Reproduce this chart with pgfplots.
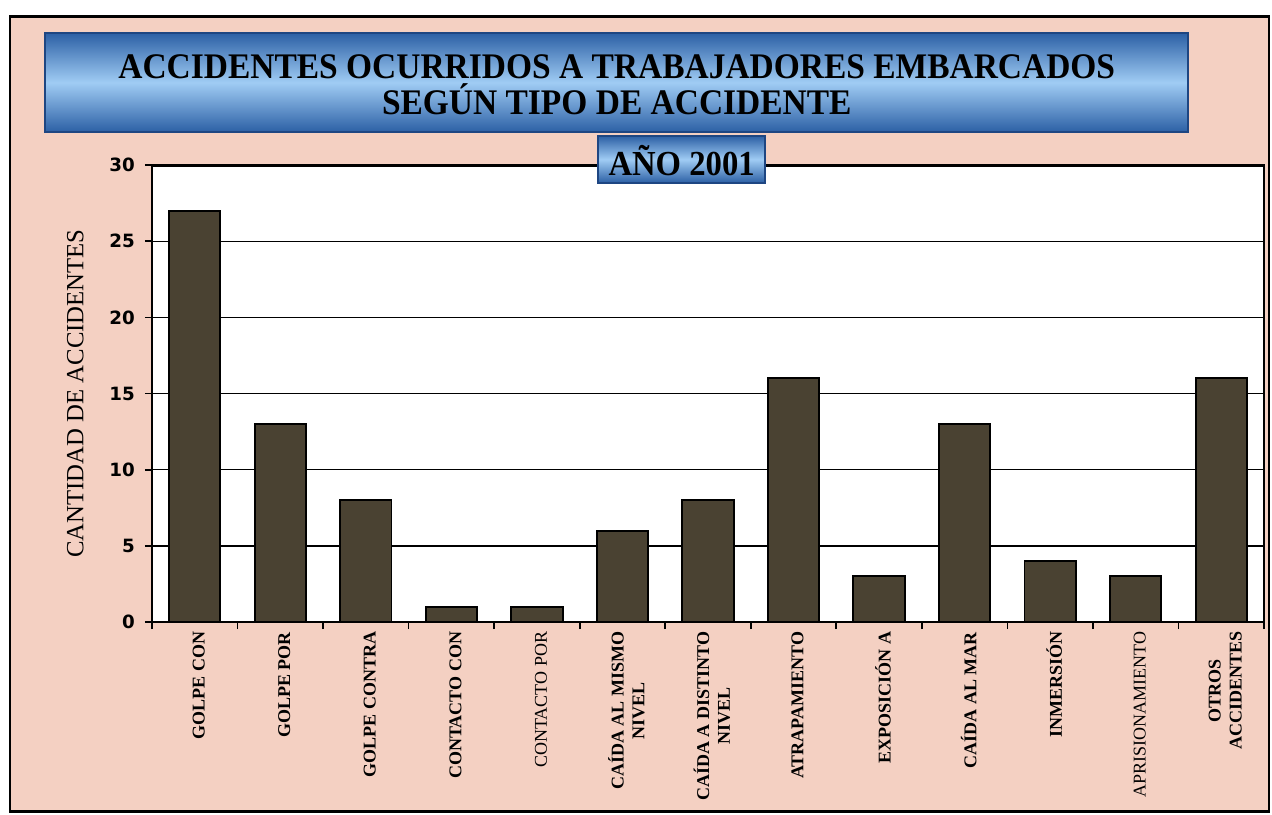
\documentclass[border=0pt]{standalone}
\usepackage{pgfplots}
\pgfplotsset{compat=1.18}
\usepackage{fontspec}
\setmainfont{Liberation Serif}
\setsansfont{DejaVu Sans}

\definecolor{fondo}{RGB}{244,208,194}
\definecolor{barra}{RGB}{74,66,50}
\definecolor{azulosc}{RGB}{44,96,165}
\definecolor{azulcla}{RGB}{160,204,244}
\definecolor{azulbor}{RGB}{30,70,130}

\begin{document}
\begin{tikzpicture}
  % page and background
  \path[use as bounding box, fill=white] (0,0) rectangle (15.9cm,10.175cm);
  \draw[fill=fondo, line width=0.9pt] (0.125cm,0.03cm) rectangle (15.86cm,9.97cm);

  \begin{axis}[
    at={(1.9cm,2.4cm)}, anchor=south west,
    width=13.9cm, height=5.71cm, scale only axis,
    axis background/.style={fill=white},
    axis line style={line width=1pt},
    xmin=-0.5, xmax=12.5,
    ymin=0, ymax=30,
    ytick={0,5,...,30},
    ymajorgrids,
    major grid style={black, line width=0.5pt},
    tick align=outside,
    major tick length=0.09cm,
    tick style={black, line width=0.6pt},
    ytick pos=left,
    xtick pos=bottom,
    xtick={-0.5,0.5,...,12.5},
    xticklabels={},
    extra x ticks={0,1,...,12},
    extra x tick style={major tick length=0pt},
    extra x tick labels={
      \textbf{GOLPE CON},
      \textbf{GOLPE POR},
      \textbf{GOLPE CONTRA},
      \textbf{CONTACTO CON},
      CONTACTO POR,
      {\textbf{CAÍDA AL MISMO}\\\textbf{NIVEL}},
      {\textbf{CAÍDA A DISTINTO}\\\textbf{NIVEL}},
      \textbf{ATRAPAMIENTO},
      \textbf{EXPOSICIÓN A},
      \textbf{CAÍDA AL MAR},
      \textbf{INMERSIÓN},
      APRISIONAMIENTO,
      {\textbf{OTROS}\\\textbf{ACCIDENTES}}
    },
    xticklabel style={rotate=90, anchor=east, align=center,
      font=\fontsize{6.4}{7.4}\selectfont, yshift=-0.05cm},
    /pgf/number format/assume math mode=true,
    yticklabel style={font=\sffamily\bfseries\fontsize{6.5}{7}\selectfont},
    ylabel={CANTIDAD DE ACCIDENTES},
    ylabel style={at={(axis description cs:-0.069,0.5)}, anchor=center,
      font=\fontsize{8.8}{10}\selectfont},
  ]
  \addplot[ybar, bar width=0.6, fill=barra, draw=black, line width=0.7pt]
    coordinates {
      (0,27) (1,13) (2,8) (3,1) (4,1) (5,6) (6,8)
      (7,16) (8,3) (9,13) (10,4) (11,3) (12,16)
    };
  \end{axis}

  % title banner
  \draw[azulbor, line width=0.6pt, top color=azulosc, bottom color=azulosc,
        middle color=azulcla]
    (0.5625cm,8.525cm) rectangle (14.85cm,9.7625cm);
  \node[align=center, xscale=0.93, font=\bfseries\fontsize{12.8}{12.8}\selectfont]
    at (7.71cm,9.11cm)
    {ACCIDENTES OCURRIDOS A TRABAJADORES EMBARCADOS\\SEGÚN TIPO DE ACCIDENTE};
  \draw[azulbor, line width=0.6pt, top color=azulosc, bottom color=azulosc,
        middle color=azulcla]
    (7.475cm,7.89cm) rectangle (9.5625cm,8.475cm);
  \node[xscale=0.93, font=\bfseries\fontsize{12.5}{12.5}\selectfont]
    at (8.52cm,8.17cm) {AÑO 2001};
\end{tikzpicture}
\end{document}
